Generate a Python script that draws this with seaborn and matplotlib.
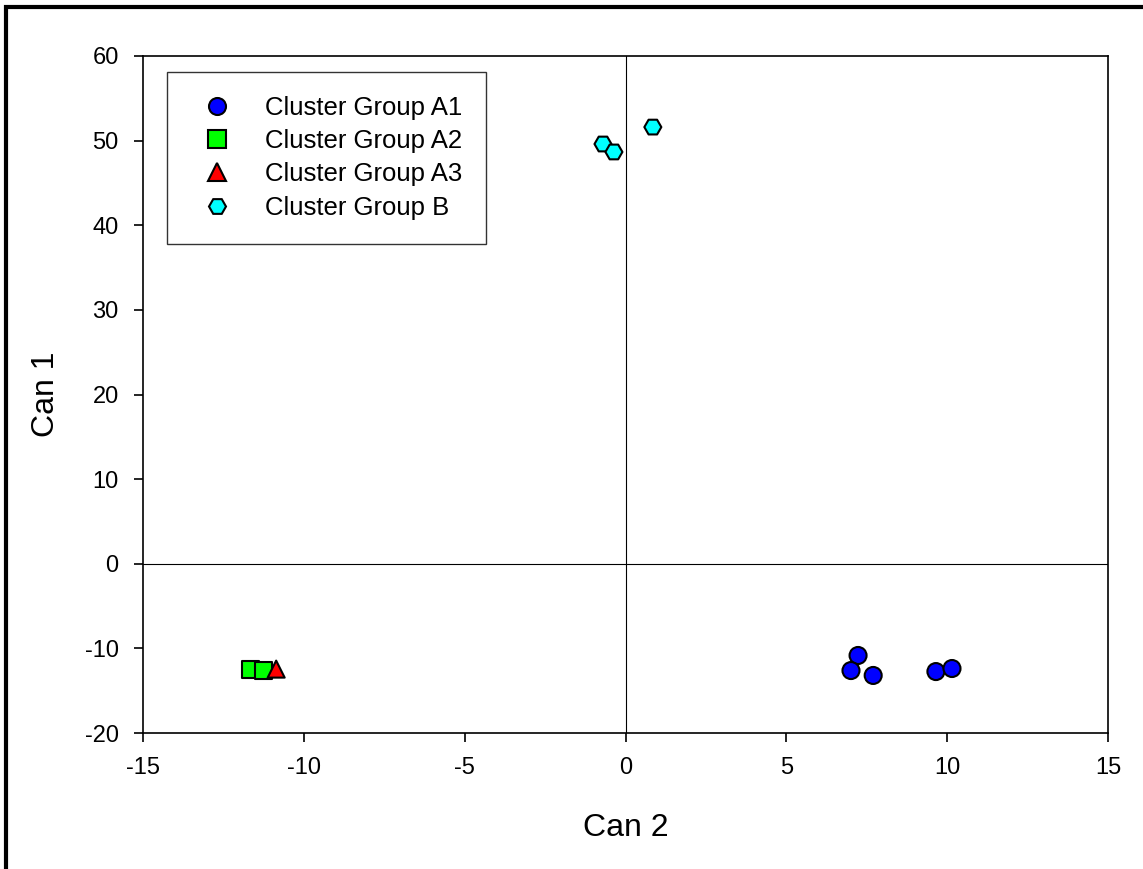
import numpy as np
import pandas as pd
import matplotlib
matplotlib.use("Agg")
import matplotlib.pyplot as plt
from matplotlib.patches import Rectangle
import seaborn as sns

# ── Data ──────────────────────────────────────────────────────────────────────
groups = ["Cluster Group A1", "Cluster Group A2", "Cluster Group A3", "Cluster Group B"]

a1_can2 = [7.23, 7.01, 7.70, 9.65, 10.15]
a1_can1 = [-10.84, -12.62, -13.20, -12.74, -12.38]

a2_can2 = [-11.65, -11.26]
a2_can1 = [-12.55, -12.60]

a3_can2 = [-10.86]
a3_can1 = [-12.45]

b_can2 = [-0.70, -0.36, 0.85]
b_can1 = [49.6, 48.66, 51.6]

x_ticks = [-15, -10, -5, 0, 5, 10, 15]
y_ticks = [-20, -10, 0, 10, 20, 30, 40, 50, 60]

colors = dict(zip(groups, ["#0000ff", "#00ff00", "#ff0000", "#00ffff"]))
markers = dict(zip(groups, ["o", "s", "^", "H"]))

df = pd.concat([
    pd.DataFrame({"Can 2": a1_can2, "Can 1": a1_can1, "Group": groups[0]}),
    pd.DataFrame({"Can 2": a2_can2, "Can 1": a2_can1, "Group": groups[1]}),
    pd.DataFrame({"Can 2": a3_can2, "Can 1": a3_can1, "Group": groups[2]}),
    pd.DataFrame({"Can 2": b_can2, "Can 1": b_can1, "Group": groups[3]}),
], ignore_index=True)

# ── Plot ──────────────────────────────────────────────────────────────────────
sns.set_theme(style="white")
plt.rcParams["font.family"] = ["Liberation Sans", "DejaVu Sans"]
plt.rcParams["axes.unicode_minus"] = False
plt.rcParams["text.color"] = "black"
plt.rcParams["axes.labelcolor"] = "black"
plt.rcParams["xtick.color"] = "black"
plt.rcParams["ytick.color"] = "black"

fig = plt.figure(figsize=(11.43, 8.69), dpi=100)
ax = fig.add_axes([143 / 1143, 1 - 733 / 869, (1108 - 143) / 1143, (733 - 56) / 869])

ax.axhline(0, color="black", lw=0.8, zorder=1)
ax.axvline(0, color="black", lw=0.8, zorder=1)

sns.scatterplot(data=df, x="Can 2", y="Can 1", hue="Group", style="Group",
                hue_order=groups, style_order=groups,
                palette=colors, markers=markers, s=150,
                edgecolor="black", linewidth=1.5, ax=ax, zorder=3)

ax.set_xlim(-15, 15)
ax.set_ylim(-20, 60)
ax.set_xticks(x_ticks)
ax.set_yticks(y_ticks)
ax.tick_params(direction="out", length=6.5, width=1.2, color="black",
               labelsize=17, pad=11, bottom=True, left=True)
for sp in ax.spines.values():
    sp.set_color("black")
    sp.set_linewidth(1.2)

ax.set_xlabel("Can 2", fontsize=23, labelpad=24)
ax.set_ylabel("Can 1", fontsize=23, labelpad=17)

leg = ax.legend(loc="upper left", bbox_to_anchor=(0.025, 0.977), fontsize=18.5,
                frameon=True, fancybox=False, edgecolor="black",
                borderpad=0.95, handletextpad=0.85, labelspacing=0.36,
                markerscale=1.0, borderaxespad=0)
leg.get_frame().set_linewidth(1.0)

# outer figure frame (open at right/bottom as in the reference)
fig.patches.append(Rectangle((6 / 1143, -0.5), 2.0, 1.5 - 7 / 869,
                             transform=fig.transFigure, fill=False,
                             edgecolor="black", lw=3, zorder=10))

fig.savefig("out.png", dpi=100)
